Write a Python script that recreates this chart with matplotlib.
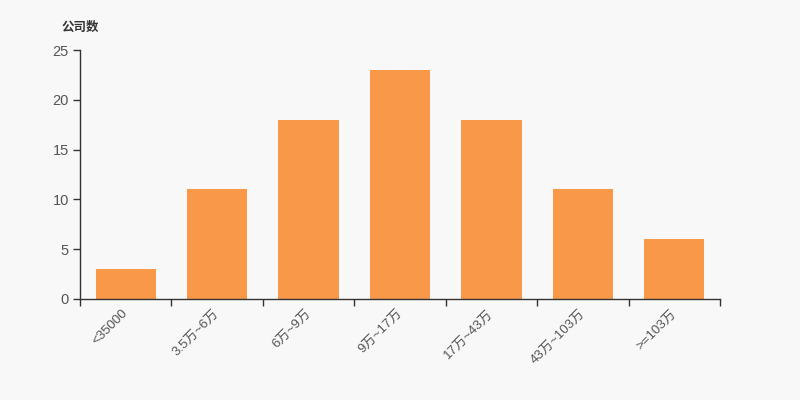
import matplotlib
matplotlib.use("Agg")
import matplotlib.pyplot as plt
import matplotlib.transforms as mtransforms
import numpy as np

plt.rcParams['font.family'] = ['Liberation Sans', 'Noto Sans CJK SC', 'DejaVu Sans']

categories = ["<35000", "3.5万~6万", "6万~9万", "9万~17万", "17万~43万", "43万~103万", ">=103万"]
values = [3, 11, 18, 23, 18, 11, 6]
y_ticks = [0, 5, 10, 15, 20, 25]
y_label = "公司数"

bg = "#f8f8f8"
bar_color = "#f89848"
text_color = "#333333"
tick_text_color = "#555555"
axis_color = "#333333"

fig = plt.figure(figsize=(8, 4), dpi=100, facecolor=bg)
ax = fig.add_axes([0.1, 0.2525, 0.8, 0.6225], facecolor=bg)

x = np.arange(len(categories))
ax.bar(x, values, width=0.66, color=bar_color, zorder=2)

ax.set_xlim(-0.5, len(categories) - 0.5)
ax.set_ylim(0, 25)
ax.set_yticks(y_ticks)
ax.tick_params(axis='y', length=5, width=1, color=axis_color, labelsize=10.5,
               labelcolor=tick_text_color, pad=3)

ax.set_xticks(np.arange(-0.5, len(categories), 1.0))
ax.set_xticklabels([])
ax.tick_params(axis='x', which='major', length=5, width=1, color=axis_color)
ax.set_xticks(x, minor=True)
labels = ax.set_xticklabels(categories, minor=True, rotation=45, ha='right',
                            rotation_mode='anchor', fontsize=9.5, color=tick_text_color)
ax.tick_params(axis='x', which='minor', length=0, pad=6)
offset = mtransforms.ScaledTranslation(-3 / 72, 0, fig.dpi_scale_trans)
for lab in ax.xaxis.get_minorticklabels():
    lab.set_transform(lab.get_transform() + offset)

for s in ['top', 'right']:
    ax.spines[s].set_visible(False)
for s in ['left', 'bottom']:
    ax.spines[s].set_color(axis_color)
    ax.spines[s].set_linewidth(1)

fig.text(0.0775, 0.932, y_label, fontsize=9, fontweight='bold', color=text_color,
         ha='left', va='center', family=['Noto Sans CJK SC', 'DejaVu Sans'])

fig.savefig("out.png", dpi=100, facecolor=bg)
